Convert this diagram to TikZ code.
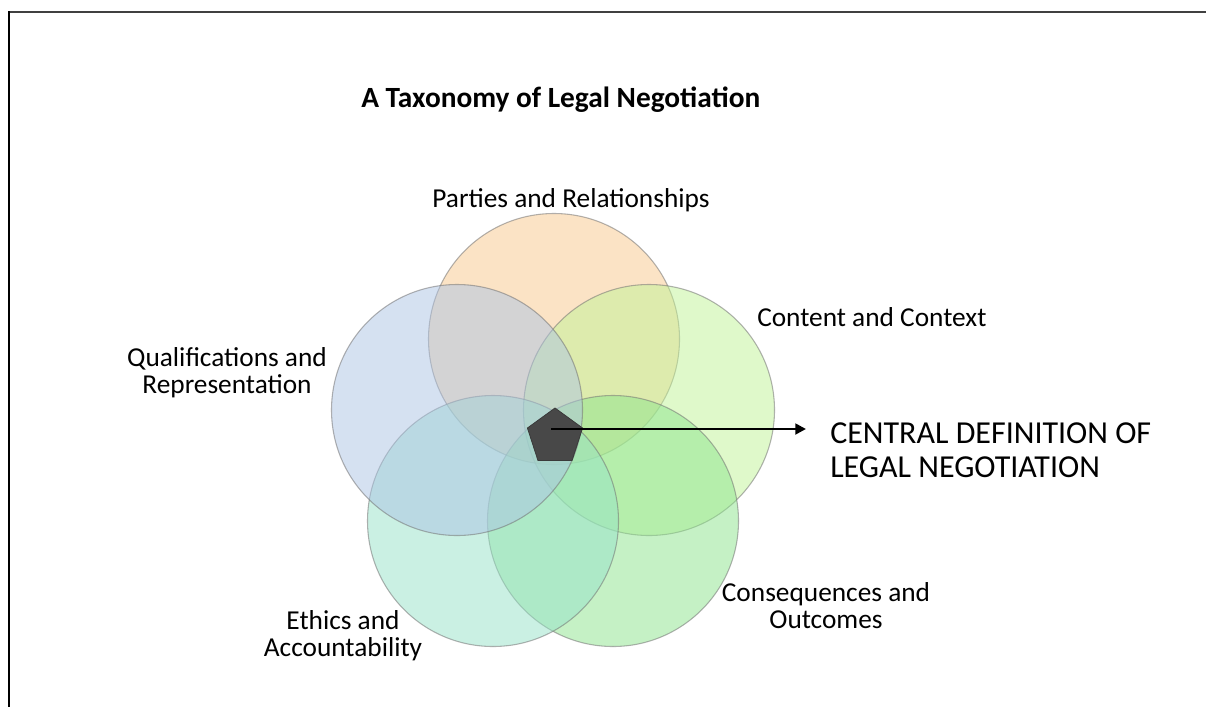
\documentclass[tikz,border=0pt]{standalone}
\usepackage{fontspec}
\setmainfont{Carlito}
\usetikzlibrary{arrows.meta,shapes.geometric}
\definecolor{cparties}{RGB}{248,200,140}
\definecolor{ccontent}{RGB}{192,243,150}
\definecolor{cconseq}{RGB}{140,228,140}
\definecolor{cethics}{RGB}{150,226,200}
\definecolor{cqual}{RGB}{172,195,228}
\definecolor{penta}{RGB}{72,72,72}
\tikzset{
  ring/.style={circle, minimum size=251*0.75pt, inner sep=0pt,
    draw=black!55, draw opacity=0.55, line width=0.8pt, fill opacity=0.5},
  lbl/.style={font=\fontsize{20.5}{20}\selectfont, inner sep=0pt, align=center, anchor=base},
  core/.style={regular polygon, regular polygon sides=5, minimum size=58*0.75pt,
    inner sep=0pt, fill=penta, draw=penta!80!black, line width=0.6pt},
}
\begin{document}
\begin{tikzpicture}[x=0.75pt, y=-0.75pt]
  \useasboundingbox (0,0) rectangle (1206,707);
  % frame edges
  \draw[line width=1.6pt, black!75] (8,12) -- (1206,12);
  \draw[line width=1.6pt, black] (9,11) -- (9,707);

  % title
  \node[font=\fontsize{22}{26}\selectfont\bfseries, inner sep=0pt, anchor=base west]
    (title) at (361,107) {A Taxonomy of Legal Negotiation};

  % the five overlapping circles
  \node[ring, fill=cparties] (parties) at (554,339) {};
  \node[ring, fill=ccontent] (content) at (649,410) {};
  \node[ring, fill=cconseq]  (conseq)  at (613,521) {};
  \node[ring, fill=cethics]  (ethics)  at (493,521) {};
  \node[ring, fill=cqual]    (qual)    at (457,410) {};

  % central pentagon and pointer
  \node[core] (centre) at (555,437) {};
  \coordinate (from) at (551,429);
  \node[font=\fontsize{24}{25.5}\selectfont, inner sep=0pt, align=left, anchor=base west]
    (defn) at (830,477) {CENTRAL DEFINITION OF\\LEGAL NEGOTIATION};
  \coordinate (tip) at (806,429);
  \draw[line width=2.2pt, -{Triangle[length=8pt,width=8pt]}] (from) -- (tip);

  % labels (multi-line labels are placed by their last baseline)
  \node[lbl] (lparties) at (571,207) {Parties and Relationships};
  \node[lbl, anchor=base west] (lcontent) at (757,326) {Content and Context};
  \node[lbl] (lqual) at (227,393) {Qualifications and\\Representation};
  \node[lbl] (lethics) at (343,656) {Ethics and\\Accountability};
  \node[lbl] (lconseq) at (826,628) {Consequences and\\Outcomes};
\end{tikzpicture}
\end{document}
